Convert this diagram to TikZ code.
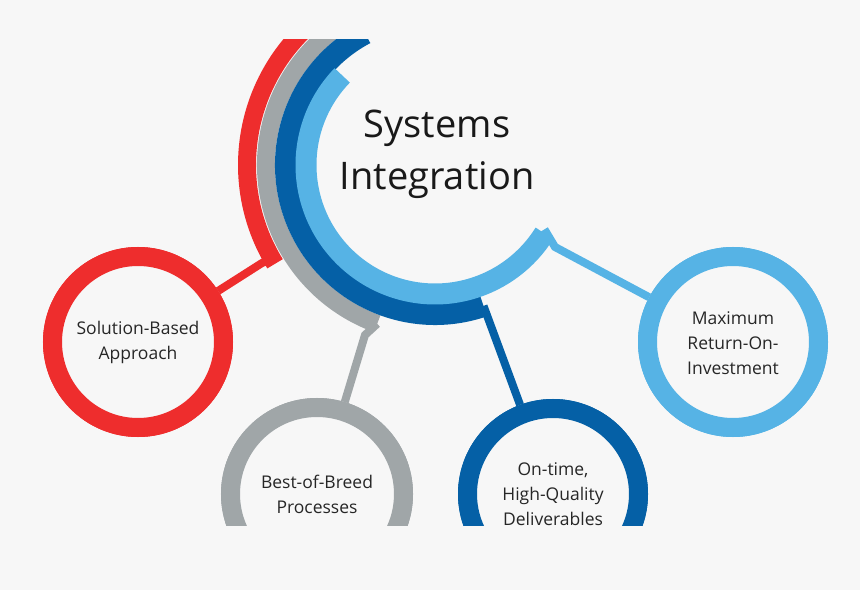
\documentclass[tikz,border=0pt]{standalone}
\usepackage{fontspec}
\setmainfont{Open Sans}
\usetikzlibrary{calc}
\definecolor{bgc}{HTML}{F7F7F7}
\definecolor{sired}{HTML}{EE2D2D}
\definecolor{sigray}{HTML}{A0A6A8}
\definecolor{sidblue}{HTML}{0560A6}
\definecolor{silblue}{HTML}{56B3E5}
\tikzset{
  ring/.style={draw=#1,line width=19pt,fill=bgc},
  band/.style={draw=#1,line width=21pt},
  link/.style={draw=#1,line width=8pt},
  lbl/.style={align=center,font=\fontsize{17.5}{25}\selectfont,text=black!85}
}
\begin{document}
\begin{tikzpicture}[x=1pt,y=1pt]
\fill[bgc] (0,0) rectangle (860,590);
\useasboundingbox (0,0) rectangle (860,590);
\begin{scope}
\clip (0,65) rectangle (860,550);
\coordinate (c) at (435,425);
% arcs
\draw[band=sired,line width=18pt] ($(c)+(100:188)$) arc(100:211.7:188) coordinate (redend);
\draw[band=sigray,line width=18pt] ($(c)+(100:169)$) arc(100:250:169) coordinate (grayend);
\draw[band=sidblue,line width=22pt] ($(c)+(118:149)$) arc(118:289:149) coordinate (dbend);
\draw[band=silblue] ($(c)+(136:129)$) arc(136:328:129) coordinate (lbend);
% links
\coordinate (redk) at (262,327);
\coordinate (grayk) at (365,255);
\coordinate (lbk) at (555,343);
\node[ring=sired,circle,minimum size=171pt,inner sep=0pt] (sol) at (138,248) {};
\node[ring=sigray,circle,minimum size=173pt,inner sep=0pt] (best) at (317,96) {};
\node[ring=sidblue,circle,minimum size=171pt,inner sep=0pt] (ontime) at (553,96) {};
\node[ring=silblue,circle,minimum size=171pt,inner sep=0pt] (maxi) at (733,248) {};
\draw[link=sired] ($(redend)+(0,6)$) -- (redk) -- (sol);
\draw[link=sigray] (grayend) -- (grayk) -- (best);
\draw[link=sidblue] (dbend) -- (ontime);
\draw[link=silblue] ($(lbend)+(0,4)$) -- (lbk) -- (maxi);
\node[ring=sired,circle,minimum size=171pt,inner sep=0pt] at (sol) {};
\node[ring=sigray,circle,minimum size=173pt,inner sep=0pt] at (best) {};
\node[ring=sidblue,circle,minimum size=171pt,inner sep=0pt] at (ontime) {};
\node[ring=silblue,circle,minimum size=171pt,inner sep=0pt] at (maxi) {};
\node[lbl] at (138,248) {Solution-Based\\Approach};
\node[lbl] at (317,96) {Best-of-Breed\\Processes};
\node[lbl] at (553,96) {On-time,\\High-Quality\\Deliverables};
\node[lbl] at (733,247) {Maximum\\Return-On-\\Investment};
\end{scope}
\node[align=center,font=\fontsize{38}{52}\selectfont,text=black!90] (title) at (437,436) {Systems\\Integration};
\end{tikzpicture}
\end{document}
